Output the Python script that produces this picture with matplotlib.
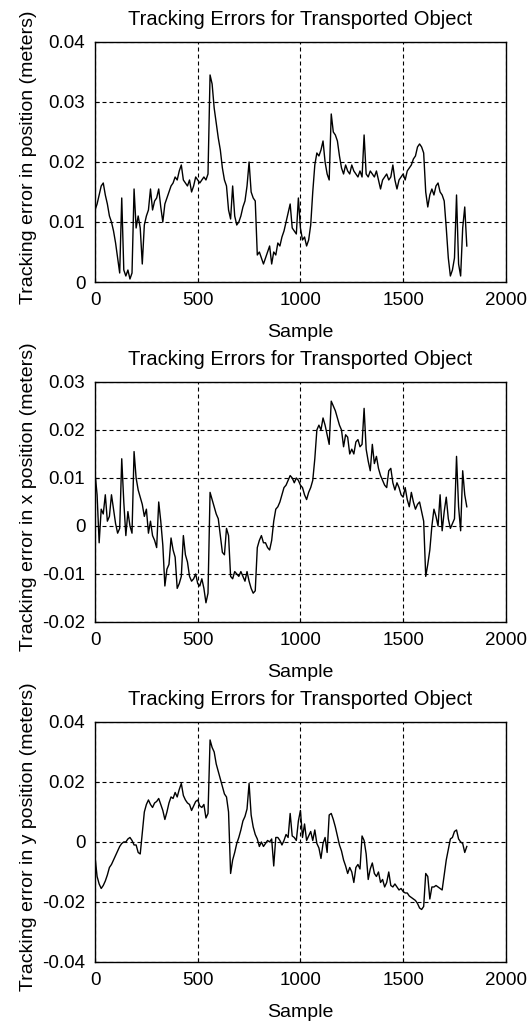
import numpy as np
import matplotlib
matplotlib.use("Agg")
import matplotlib.pyplot as plt

# sample index, every 10 samples
samples = np.arange(0, 1820, 10)

# errors, in millimetres
err_total_mm = [
    12, 13, 14.5, 16, 16.5, 14.5, 13, 11, 10, 8.5,
    6.5, 4, 1.5, 14, 2, 1, 2, 0.5, 1.5, 15.5,
    9, 11, 9, 3, 9.5, 11, 12, 15.5, 12, 13.5,
    14, 15.5, 12.5, 10, 13, 14, 15, 16, 16.5, 17.5,
    17, 18.5, 19.5, 17, 16.5, 16, 17, 15, 16, 17.5,
    17, 16.5, 17, 17.5, 17, 18, 34.5, 33, 29, 26.5,
    24, 22, 19, 17, 16, 12, 10.5, 16, 11, 9.5,
    10, 11, 12.5, 13.5, 16, 20, 15, 14, 13.5, 4.5,
    5, 4, 3, 4, 5, 6, 3, 5, 4.5, 6.5,
    6, 7.5, 8.5, 10, 11.5, 13, 9, 8.5, 8, 14,
    9, 7, 7.5, 6, 7, 9.5, 15, 19.5, 21.5, 21,
    22, 23.5, 20, 18, 17, 28, 25, 24.5, 23.5, 21,
    19, 18, 19.5, 18.5, 18, 19.5, 18.5, 18, 17.5, 18.5,
    17.5, 24.5, 18, 17.5, 18.5, 18, 17.5, 18.5, 17, 15.5,
    17, 17.5, 18, 17, 17.5, 19.5, 17, 15.5, 17, 17.5,
    18, 17, 18.5, 19, 19.5, 20.5, 21, 22.5, 23, 22.5,
    21.5, 15, 12.5, 14.5, 15.5, 14.5, 16, 16.5, 15, 14.5,
    13.5, 9, 4, 1, 2, 4, 14.5, 3, 1, 9,
    12.5, 6,
]

err_x_mm = [
    11, 6.5, -3.5, 3.5, 2.5, 6.5, 1, 2, 6.5, 3.5,
    0.5, -1.5, -0.5, 14, 5, -2, 3, 0, -1.5, 15.5,
    10, 7.5, 6, 4.5, 2, 3.5, -1.5, 1, -2, -3,
    -4.5, 5, 1, -4, -12.5, -9, -8, -2.5, -5, -6.5,
    -13, -12, -10.5, -2, -6, -7.5, -10.5, -11.5, -11, -10,
    -12, -12.5, -11, -13, -16, -14, 7, 5.5, 4, 2.5,
    1.5, -2, -5.5, -6, -0.5, -2, -10.5, -11, -9.5, -10,
    -10.5, -9.5, -10.5, -11.5, -9.5, -11.5, -13, -14, -13.5, -4.5,
    -3, -2, -3.5, -3.5, -4.5, -5, -3, 1, 3.5, 4,
    5, 6.5, 8, 8.5, 9.5, 10.5, 10, 9, 10, 9.5,
    8.5, 8, 6.5, 5.5, 7, 8, 9.5, 14, 20, 21,
    20, 22.5, 21, 19, 17, 26, 25, 24, 22.5, 21,
    20, 16.5, 19, 18.5, 15, 16, 15, 17.5, 18, 16.5,
    17, 24.5, 16, 13.5, 11.5, 17, 13, 14.5, 12, 10.5,
    9.5, 8.5, 8, 11.5, 12, 9, 7.5, 9, 8, 6.5,
    6, 8, 5.5, 4, 7, 5, 3.5, 4.5, 5, 3,
    1, -10.5, -8, -5, 0, 3.5, 2, 0, 6.5, -1,
    3, 6, 1.5, -0.5, 0.5, 1.5, 14.5, 4, -1, 11.5,
    6.5, 4,
]

err_y_mm = [
    -5, -11.5, -14, -15.5, -14.5, -13, -11, -8.5, -7.5, -6,
    -4.5, -3, -1.5, -0.5, 0, 0, 1, 1.5, 0.5, -1,
    -1, -3.5, -4, 3, 10, 12.5, 14, 12.5, 11.5, 13,
    13.5, 14.5, 12.5, 10.5, 7.5, 10, 13, 15, 14.5, 16.5,
    15, 17.5, 19.5, 15.5, 14, 13, 12.5, 10.5, 12, 13.5,
    14, 12, 11.5, 12.5, 8, 9.5, 34, 31.5, 30, 26,
    23.5, 21, 18.5, 16, 15, 10, -10.5, -6, -3.5, -0.5,
    1.5, 4, 7, 8.5, 11, 19.5, 9, 5, 2.5, 1,
    -1.5, 0, -1.5, -0.5, 0.5, 0, 1, -8, 1.5, 1.5,
    0.5, -1, 0.5, 2.5, 1.5, 9.5, 2, 1.5, 0.5, 7,
    10.5, 1.5, 6, 0.5, 2, 3.5, 0.5, 4, -0.5, -2,
    -5.5, -0.5, 1.5, -3.5, 9, 9.5, 7.5, 5, 2, -1,
    -3, -6, -8, -10.5, -8.5, -10, -13.5, -8.5, -7.5, -9,
    2, 0.5, -4, -12.5, -9, -7, -10.5, -11.5, -10, -13.5,
    -12.5, -15, -13.5, -10, -14.5, -15, -14, -15, -16, -15.5,
    -16.5, -17, -17, -18, -18.5, -19, -19.5, -20.5, -22, -22.5,
    -21.5, -10.5, -11.5, -19, -15, -15, -14.5, -15, -15.5, -16,
    -11, -6, -2.5, 1, 1.5, 3.5, 4, 1, 0, -0.5,
    -3.5, -1.5,
]

x_ticks = [0, 500, 1000, 1500, 2000]
y_ticks_total = [0, 0.01, 0.02, 0.03, 0.04]
y_ticks_x = [-0.02, -0.01, 0, 0.01, 0.02, 0.03]
y_ticks_y = [-0.04, -0.02, 0, 0.02, 0.04]

title = "Tracking Errors for Transported Object"
ylabels = ["Tracking error in position (meters)",
           "Tracking error in x position (meters)",
           "Tracking error in y position (meters)"]


def fmt(v):
    return "0" if v == 0 else "%g" % v


plt.rcParams['font.family'] = ['Liberation Sans', 'DejaVu Sans']
plt.rcParams['font.size'] = 13.5

fig = plt.figure(figsize=(5.28, 10.21), dpi=100)
bottoms = [0.7238, 0.3908, 0.0578]
series = [err_total_mm, err_x_mm, err_y_mm]
yticks = [y_ticks_total, y_ticks_x, y_ticks_y]

for i in range(3):
    ax = fig.add_axes([0.180, bottoms[i], 0.778, 0.2351])
    vals = np.array(series[i]) / 1000.0
    ax.plot(samples, vals, color='black', lw=1.0)
    ax.set_xlim(0, 2000)
    ax.set_ylim(yticks[i][0], yticks[i][-1])
    ax.set_xticks(x_ticks)
    ax.set_xticklabels([str(t) for t in x_ticks])
    ax.set_yticks(yticks[i])
    ax.set_yticklabels([fmt(t) for t in yticks[i]])
    ax.grid(True, color='black', linestyle=(0, (3.6, 2.7)), lw=0.8)
    ax.tick_params(direction='in', length=3, width=0.8, pad=7,
                   labelsize=13.5)
    for s in ax.spines.values():
        s.set_linewidth(1.0)
    ax.set_title(title, fontsize=14.5, pad=12)
    ax.set_xlabel("Sample", fontsize=14, labelpad=11)
    ax.set_ylabel(ylabels[i], fontsize=14)
    ax.yaxis.set_label_coords(-0.141, 0.52)

fig.savefig("out.png", dpi=100)
